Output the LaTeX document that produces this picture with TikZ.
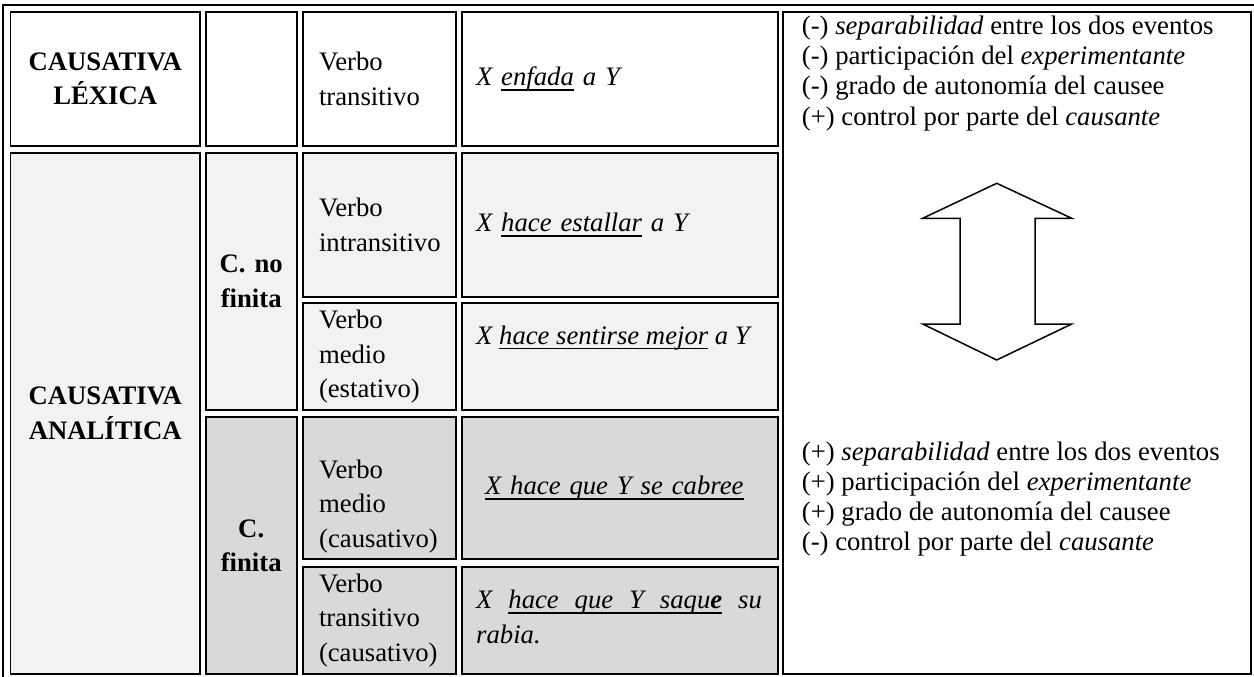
\documentclass[tikz,border=0pt]{standalone}
\usepackage{fontspec}
\setmainfont{Liberation Serif}
\definecolor{lightg}{HTML}{F2F2F2}
\definecolor{darkg}{HTML}{D9D9D9}
\newcommand{\tsz}{\fontsize{26.7pt}{34.5pt}\selectfont}
\newcommand{\undl}[1]{\leavevmode\setbox0\hbox{#1}\rlap{\vrule height -3.6pt depth 5.3pt width \wd0}\box0\relax}
\newcommand{\ulfill}{\leaders\vrule height -3.6pt depth 5.3pt\hfill}
\begin{document}
\begin{tikzpicture}[x=1pt,y=-1pt,
  cell/.style={draw, line width=1.8pt, inner ysep=0pt, outer sep=0pt, anchor=center, font=\tsz},
  headcell/.style={cell, inner xsep=0pt, align=center, font=\tsz\bfseries},
  verbcell/.style={cell, inner xsep=15.7pt, text width=121.3pt, minimum width=152.7pt, align=left},
  excell/.style={cell, inner xsep=14.3pt, text width=288pt, minimum width=316.6pt, align=left, font=\tsz\itshape},
  celltext/.style={anchor=north west, inner sep=0pt, align=left, font=\tsz},
  extext/.style={anchor=base west, inner sep=0pt, font=\tsz\itshape},
  propline/.style={anchor=base west, inner sep=0pt, font=\fontsize{26.7pt}{30pt}\selectfont},
  frameline/.style={line width=1.7pt},
  bigarrow/.style={line width=1.5pt, line join=miter}
]
\useasboundingbox (0,0) rectangle (1254,677);
\fill[white] (0,0) rectangle (1254,677);
\draw[frameline] (3,5) rectangle (1258,681);

% row 1
\node[headcell, fill=white, minimum width=189.5pt, text width=189.5pt, minimum height=133.3pt] (lex) at (105.25,79) {CAUSATIVA\\LÉXICA};
\node[cell, fill=white, minimum width=91pt, minimum height=133.3pt] (emp) at (251.2,79) {};
\node[verbcell, fill=white, minimum height=133.3pt] (vt) at (379.65,79) {Verbo\\transitivo};
\node[excell, fill=white, minimum height=133.3pt] (ex1) at (620,79) {X \undl{enfada} a Y};

% analytic
\node[headcell, fill=lightg, minimum width=189.5pt, text width=189.5pt, minimum height=521.3pt] (ana) at (105.25,413.35) {CAUSATIVA\\ANALÍTICA};
\node[headcell, fill=lightg, minimum width=91pt, text width=91pt, minimum height=257.3pt] (cnf) at (251.2,281.35) {C. no\\finita};
\node[verbcell, fill=lightg, minimum height=144pt] (vi) at (379.65,224.7) {Verbo\\intransitivo};
\node[excell, fill=lightg, minimum height=144pt] (ex2) at (620,224.7) {X \undl{hace estallar} a Y};
\node[verbcell, fill=lightg, minimum height=106.7pt] (vme) at (379.65,356.65) {Verbo\\medio\\(estativo)};
\node[excell, fill=lightg, minimum height=106.7pt] (ex3) at (620,356.65) {};
\node[extext] (ex3t) at (476,344) {X \undl{hace sentirse mejor} a Y};

\node[headcell, fill=darkg, minimum width=91pt, text width=91pt, minimum height=256.7pt] (cf) at (251.2,545.65) {C.\\finita};
\node[verbcell, fill=darkg, minimum height=141.7pt] (vmc) at (379.65,488.15) {};
\node[celltext] (vmct) at (319,459.5) {Verbo\\medio\\(causativo)};
\node[excell, fill=darkg, minimum height=141.7pt] (ex4) at (620,488.15) {\hspace*{9pt}\undl{X hace que Y se cabree}};
\node[verbcell, fill=darkg, minimum height=107.3pt] (vtc) at (379.65,620.35) {Verbo\\transitivo\\(causativo)};
\node[excell, fill=darkg, minimum height=107.3pt] (ex5) at (620,620.35) {};
\node[celltext, font=\tsz\itshape] (ex5t) at (476,590) {\hbox to 285.7pt{X\hfill\undl{hace}\ulfill\undl{que}\ulfill\undl{Y}\ulfill\undl{saqu\textbf{e}}\hfill su}\\rabia.};

% right column
\node[cell, fill=white, minimum width=468pt, minimum height=661.4pt] (right) at (1017,343) {};
\node[propline] (p1) at (801.7,35) {(-) \textit{separabilidad} entre los dos eventos};
\node[propline] (p2) at (801.7,65) {(-) participación del \textit{experimentante}};
\node[propline] (p3) at (801.7,95) {(-) grado de autonomía del causee};
\node[propline] (p4) at (801.7,125) {(+) control por parte del \textit{causante}};
\node[propline] (q1) at (801.7,460) {(+) \textit{separabilidad} entre los dos eventos};
\node[propline] (q2) at (801.7,490) {(+) participación del \textit{experimentante}};
\node[propline] (q3) at (801.7,520) {(+) grado de autonomía del causee};
\node[propline] (q4) at (801.7,550) {(-) control por parte del \textit{causante}};

% double arrow
\draw[bigarrow, fill=white] (996.7,183.3) -- (1071.7,218.3) -- (1035,218.3) -- (1035,324) -- (1071.7,324)
  -- (996.7,360) -- (922.7,324) -- (960,324) -- (960,218.3) -- (922.7,218.3) -- cycle;
\end{tikzpicture}
\end{document}
